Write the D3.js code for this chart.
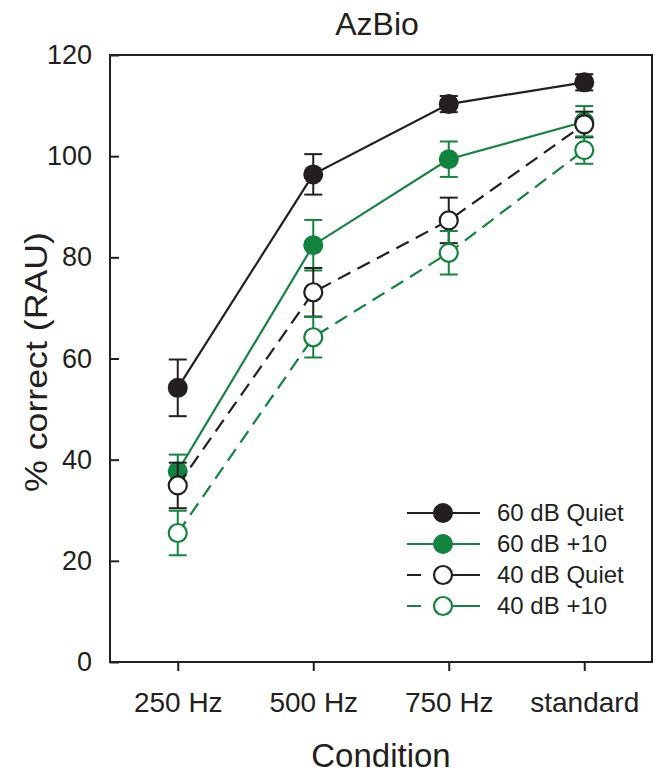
<!DOCTYPE html>
<html lang="en">
<head>
<meta charset="utf-8">
<title>AzBio</title>
<script src="https://cdn.jsdelivr.net/npm/d3@7"></script>
<style>
  body { margin: 0; background: #fff; }
  text { font-family: "Liberation Sans", Arial, sans-serif; fill: #231f20; }
</style>
</head>
<body>
<script>
var w = 657, h = 777;
var margin = {top: 55, right: 5, bottom: 115, left: 110};

var conditions = ["250 Hz", "500 Hz", "750 Hz", "standard"];
var yTicks = [0, 20, 40, 60, 80, 100, 120];

var seriesNames = ["60 dB Quiet", "60 dB +10", "40 dB Quiet", "40 dB +10"];
var quiet60 = [54.2, 96.4, 110.3, 114.6];
var quiet60Err = [5.6, 4.0, 1.6, 1.6];
var plus60 = [37.7, 82.4, 99.4, 106.8];
var plus60Err = [3.3, 5.0, 3.5, 3.1];
var quiet40 = [34.9, 73.1, 87.3, 106.3];
var quiet40Err = [4.5, 4.8, 4.5, 2.5];
var plus40 = [25.5, 64.2, 80.9, 101.2];
var plus40Err = [4.4, 4.0, 4.3, 2.7];

var black = "#231f20", green = "#13843f";
var series = [
  {name: seriesNames[0], vals: quiet60, err: quiet60Err, color: black, filled: true, dash: null},
  {name: seriesNames[1], vals: plus60, err: plus60Err, color: green, filled: true, dash: null},
  {name: seriesNames[2], vals: quiet40, err: quiet40Err, color: black, filled: false, dash: "14,8"},
  {name: seriesNames[3], vals: plus40, err: plus40Err, color: green, filled: false, dash: "14,8"}
];

var svg = d3.select("body").append("svg").attr("width", w).attr("height", h);

var x = d3.scalePoint().domain(conditions)
  .range([margin.left, w - margin.right]).padding(0.5);
var y = d3.scaleLinear().domain([0, 120]).range([h - margin.bottom, margin.top]);

// frame
svg.append("rect")
  .attr("x", margin.left).attr("y", margin.top)
  .attr("width", w - margin.right - margin.left)
  .attr("height", h - margin.bottom - margin.top)
  .attr("fill", "none").attr("stroke", black).attr("stroke-width", 2);

// x axis, ticks outward
var xAxis = d3.axisBottom(x).tickSize(9).tickPadding(21);
var gx = svg.append("g").attr("transform", "translate(0," + (h - margin.bottom) + ")").call(xAxis);
gx.select(".domain").remove();
gx.selectAll("line").attr("stroke", black).attr("stroke-width", 2);
gx.selectAll("text").attr("font-size", 28).attr("dy", "0.72em");

// y axis, ticks inward
var yAxis = d3.axisLeft(y).tickValues(yTicks).tickSize(-9).tickPadding(18);
var gy = svg.append("g").attr("transform", "translate(" + margin.left + ",0)").call(yAxis);
gy.select(".domain").remove();
gy.selectAll("line").attr("stroke", black).attr("stroke-width", 2);
gy.selectAll("text").attr("font-size", 27);

// titles
svg.append("text").attr("x", 377).attr("y", 35).attr("text-anchor", "middle")
  .attr("font-size", 32).text("AzBio");
svg.append("text").attr("x", 381).attr("y", 767).attr("text-anchor", "middle")
  .attr("font-size", 33).text("Condition");
svg.append("text").attr("transform", "translate(47,362) rotate(-90)")
  .attr("text-anchor", "middle").attr("font-size", 31)
  .attr("textLength", 260).attr("lengthAdjust", "spacingAndGlyphs")
  .text("% correct (RAU)");

var line = d3.line().x(function(d, i) { return x(conditions[i]); }).y(function(d) { return y(d); });

series.forEach(function(s) {
  var g = svg.append("g");
  g.append("path").datum(s.vals).attr("d", line)
    .attr("fill", "none").attr("stroke", s.color).attr("stroke-width", 2.2)
    .attr("stroke-dasharray", s.dash);
  var eb = g.selectAll(".eb").data(s.vals).enter().append("g");
  eb.append("line")
    .attr("x1", function(d, i) { return x(conditions[i]); })
    .attr("x2", function(d, i) { return x(conditions[i]); })
    .attr("y1", function(d, i) { return y(d + s.err[i]); })
    .attr("y2", function(d, i) { return y(d - s.err[i]); })
    .attr("stroke", s.color).attr("stroke-width", 2);
  [1, -1].forEach(function(sg) {
    eb.append("line")
      .attr("x1", function(d, i) { return x(conditions[i]) - 9; })
      .attr("x2", function(d, i) { return x(conditions[i]) + 9; })
      .attr("y1", function(d, i) { return y(d + sg * s.err[i]); })
      .attr("y2", function(d, i) { return y(d + sg * s.err[i]); })
      .attr("stroke", s.color).attr("stroke-width", 2);
  });
  g.selectAll("circle").data(s.vals).enter().append("circle")
    .attr("cx", function(d, i) { return x(conditions[i]); })
    .attr("cy", function(d) { return y(d); })
    .attr("r", s.filled ? 10 : 9)
    .attr("fill", s.filled ? s.color : "#fff")
    .attr("stroke", s.color).attr("stroke-width", s.filled ? 0 : 2.2);
});

// legend
var legendY = d3.scalePoint().domain(seriesNames).range([513, 606]);
var lg = svg.append("g").selectAll("g").data(series).enter().append("g")
  .attr("transform", function(d) { return "translate(0," + legendY(d.name) + ")"; });
lg.append("line").attr("x1", 407).attr("x2", 480).attr("y1", 0).attr("y2", 0)
  .attr("stroke", function(d) { return d.color; }).attr("stroke-width", 2.2)
  .attr("stroke-dasharray", function(d) { return d.dash ? "14,32,27" : null; });
lg.append("circle").attr("cx", 443).attr("cy", 0)
  .attr("r", function(d) { return d.filled ? 10 : 9; })
  .attr("fill", function(d) { return d.filled ? d.color : "#fff"; })
  .attr("stroke", function(d) { return d.color; })
  .attr("stroke-width", function(d) { return d.filled ? 0 : 2.2; });
lg.append("text").attr("x", 497).attr("y", 0).attr("dy", "0.35em")
  .attr("font-size", 24).text(function(d) { return d.name; });
</script>
</body>
</html>
